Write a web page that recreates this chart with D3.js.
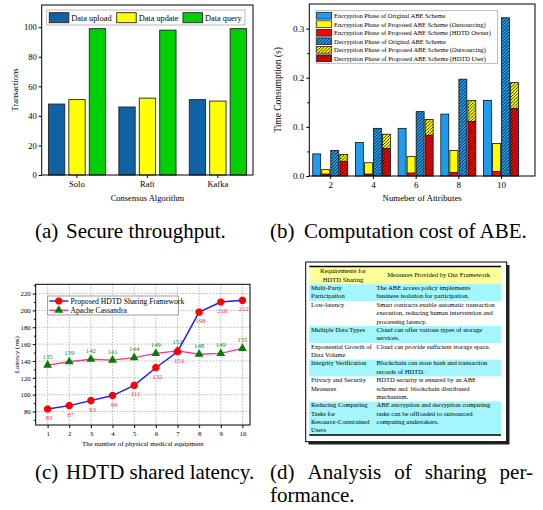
<!DOCTYPE html>
<html>
<head>
<meta charset="utf-8">
<script src="https://cdn.jsdelivr.net/npm/d3@7"></script>
<style>
body { margin: 0; background: #fff; }
text { font-family: "Liberation Serif", "Times New Roman", serif; fill: #000; }
</style>
</head>
<body>
<svg id="fig" width="543" height="510"></svg>
<script>
// (a) secure throughput
const consensus = ["Solo", "Raft", "Kafka"];
const txSeries = ["Data upload", "Data update", "Data query"];
const txUpload = [48, 46, 51];
const txUpdate = [51, 52, 50];
const txQuery = [99, 98, 99];
const txTicks = [0, 20, 40, 60, 80, 100];

// (b) computation cost of ABE
const attrCounts = [2, 4, 6, 8, 10];
const encOriginal = [0.045, 0.068, 0.097, 0.126, 0.154];
const encOwner = [0.004, 0.004, 0.006, 0.007, 0.009];
const encOutsourcing = [0.009, 0.023, 0.034, 0.045, 0.057];
const decOriginal = [0.052, 0.097, 0.131, 0.197, 0.322];
const decUser = [0.030, 0.056, 0.083, 0.111, 0.137];
const decOutsourcing = [0.014, 0.029, 0.032, 0.043, 0.053];
const abeLegend = [
    "Encryption Phase of Original ABE Scheme",
    "Encryption Phase of Proposed ABE Scheme (Outsourcing)",
    "Encryption Phase of Proposed ABE Scheme (HDTD Owner)",
    "Decryption Phase of Original ABE Scheme",
    "Decryption Phase of Proposed ABE Scheme (Outsourcing)",
    "Decryption Phase of Proposed ABE Scheme (HDTD User)"
];
const abeTicks = [0, 0.1, 0.2, 0.3];

// (c) latency
const equipment = [1, 2, 3, 4, 5, 6, 7, 8, 9, 10];
const latProposed = [83, 87, 93, 99, 111, 132, 151, 198, 210, 212];
const latCassandra = [135, 139, 142, 141, 144, 149, 152, 148, 149, 155];
const latTicks = [80, 100, 120, 140, 160, 180, 200, 220];
const latNames = ["Proposed HDTD Sharing Framework", "Apache Cassandra"];

// (d) table
const tableHead = [["Requirements for", "HDTD Sharing"], ["Measures Provided by Our Framework"]];
const requirements = [
    ["Multi-Party", "Participation"],
    ["Low-latency"],
    ["Multiple Data Types"],
    ["Exponential Growth of", "Data Volume"],
    ["Integrity Verification"],
    ["Privacy and Security", "Measures"],
    ["Reducing Computing", "Tasks for", "Resource-Constrained", "Users"]
];
const measures = [
    ["The ABE access policy implements", "business isolation for participation."],
    ["Smart contracts enable automatic transaction", "execution, reducing human intervention and", "processing latency."],
    ["Cloud can offer various types of storage", "services."],
    ["Cloud can provide sufficient storage space."],
    ["Blockchain can store hash and transaction", "records of HDTD."],
    ["HDTD security is ensured by an ABE", "scheme and  blockchain distributed", "mechanism."],
    ["ABE encryption and decryption computing", "tasks can be offloaded to outsourced", "computing undertakers."]
];

const svg = d3.select("#fig");

const defs = svg.append("defs");
const hatch = (id, color) => {
    const p = defs.append("pattern").attr("id", id)
        .attr("patternUnits", "userSpaceOnUse").attr("width", 3.2).attr("height", 3.2);
    p.append("rect").attr("width", 3.2).attr("height", 3.2).attr("fill", color);
    p.append("path").attr("d", "M-0.8,0.8 L0.8,-0.8 M0,3.2 L3.2,0 M2.4,4 L4,2.4")
        .attr("stroke", "#000").attr("stroke-width", 0.8);
};
hatch("hBlue", "#1e9cf0");
hatch("hYellow", "#ffff00");
hatch("hRed", "#ff0000");

const styleAxis = (g, fs) => {
    g.select(".domain").remove();
    g.selectAll("line").attr("stroke", "#000");
    g.selectAll("text").attr("font-size", fs);
};

// ---------------- (a) ----------------
const A = { l: 41.7, r: 253, t: 5, b: 175 };
const ay = d3.scaleLinear().domain([0, 115]).range([A.b, A.t]);
const ax = d3.scaleBand().domain(consensus).range([A.l, A.r]);
const axIn = d3.scaleBand().domain(txSeries).range([-28.5, 28.7]).paddingInner(0.2);
const txColors = ["#0f62a3", "#ffff00", "#00d000"];
const txData = [txUpload, txUpdate, txQuery];

const ga = svg.append("g");
txData.forEach((vals, s) => {
    ga.selectAll(null).data(vals).enter().append("rect")
        .attr("x", (d, i) => ax(consensus[i]) + ax.bandwidth() / 2 + axIn(txSeries[s]))
        .attr("y", d => ay(d))
        .attr("width", axIn.bandwidth())
        .attr("height", d => ay(0) - ay(d))
        .attr("fill", txColors[s])
        .attr("stroke", "#222").attr("stroke-width", 0.9);
});
ga.append("g").attr("transform", `translate(${A.l},0)`)
    .call(d3.axisLeft(ay).tickValues(txTicks).tickSize(3).tickPadding(2))
    .call(g => styleAxis(g, 8.5));
ga.append("g").attr("transform", `translate(0,${A.b})`)
    .call(d3.axisBottom(ax).tickSize(3).tickPadding(3))
    .call(g => styleAxis(g, 8.5));
ga.append("rect").attr("x", A.l).attr("y", A.t).attr("width", A.r - A.l).attr("height", A.b - A.t)
    .attr("fill", "none").attr("stroke", "#000").attr("stroke-width", 1);
ga.append("text").attr("transform", `translate(18,${(A.t + A.b) / 2}) rotate(-90)`)
    .attr("text-anchor", "middle").attr("font-size", 8.5).text("Transactions");
ga.append("text").attr("x", (A.l + A.r) / 2).attr("y", 201)
    .attr("text-anchor", "middle").attr("font-size", 8.5).text("Consensus Algorithm");

// legend (a)
ga.append("rect").attr("x", 46.7).attr("y", 10).attr("width", 198.3).attr("height", 15)
    .attr("fill", "#fff").attr("stroke", "#aaa").attr("stroke-width", 0.8);
const legAx = [49.3, 116.7, 183];
txSeries.forEach((name, s) => {
    ga.append("rect").attr("x", legAx[s]).attr("y", 12.7).attr("width", 19.5).attr("height", 10)
        .attr("fill", txColors[s]).attr("stroke", "#222").attr("stroke-width", 0.9);
    ga.append("text").attr("x", legAx[s] + 22).attr("y", 20.7).attr("font-size", 8.3).text(name);
});

// ---------------- (b) ----------------
const B = { l: 309.3, r: 535, t: 4, b: 176 };
const by = d3.scaleLinear().domain([0, 0.35]).range([B.b, B.t]);
const bx = d3.scaleLinear().domain([1.02, 11.59]).range([B.l, B.r]);
const bIn = d3.scaleBand().domain([0, 1, 2, 3]).range([-17.5, 17.5]).paddingInner(0.12);

const gb = svg.append("g");
const stacks = [
    [[encOriginal, "#1e9cf0"]],
    [[encOwner, "#ff0000"], [encOutsourcing, "#ffff00"]],
    [[decOriginal, "url(#hBlue)"]],
    [[decUser, "url(#hRed)"], [decOutsourcing, "url(#hYellow)"]]
];
stacks.forEach((segs, k) => {
    attrCounts.forEach((n, i) => {
        let base = 0;
        segs.forEach(([vals, fill]) => {
            const v = vals[i];
            gb.append("rect")
                .attr("x", bx(n) + bIn(k))
                .attr("y", by(base + v))
                .attr("width", bIn.bandwidth())
                .attr("height", by(base) - by(base + v))
                .attr("fill", fill)
                .attr("stroke", "#111").attr("stroke-width", 0.8);
            base += v;
        });
    });
});
gb.append("g").attr("transform", `translate(${B.l},0)`)
    .call(d3.axisLeft(by).tickValues(abeTicks).tickFormat(d3.format(".1f")).tickSize(3).tickPadding(2))
    .call(g => styleAxis(g, 9));
gb.append("g").attr("transform", `translate(${B.l},0)`)
    .call(d3.axisLeft(by).tickValues([0.05, 0.15, 0.25]).tickFormat("").tickSize(2))
    .call(g => styleAxis(g, 9));
gb.append("g").attr("transform", `translate(0,${B.b})`)
    .call(d3.axisBottom(bx).tickValues(attrCounts).tickSize(3).tickPadding(3))
    .call(g => styleAxis(g, 9));
gb.append("rect").attr("x", B.l).attr("y", B.t).attr("width", B.r - B.l).attr("height", B.b - B.t)
    .attr("fill", "none").attr("stroke", "#000").attr("stroke-width", 1);
gb.append("text").attr("transform", `translate(281,${(B.t + B.b) / 2}) rotate(-90)`)
    .attr("text-anchor", "middle").attr("font-size", 9.5).text("Time Consumption (s)");
gb.append("text").attr("x", (B.l + B.r) / 2).attr("y", 201)
    .attr("text-anchor", "middle").attr("font-size", 8.8).text("Numeber of Attributes");

// legend (b)
gb.append("rect").attr("x", 316).attr("y", 10.7).attr("width", 181.7).attr("height", 52.6)
    .attr("fill", "#fff").attr("stroke", "#aaa").attr("stroke-width", 0.8);
const abeLegFill = ["#1e9cf0", "#ffff00", "#ff0000", "url(#hBlue)", "url(#hYellow)", "url(#hRed)"];
abeLegend.forEach((name, i) => {
    const cy = 15.7 + i * 8.52;
    gb.append("rect").attr("x", 316.7).attr("y", cy - 3.4).attr("width", 15).attr("height", 6.8)
        .attr("fill", abeLegFill[i]).attr("stroke", "#111").attr("stroke-width", 0.7);
    gb.append("text").attr("x", 334).attr("y", cy + 2.3).attr("font-size", 6.45).text(name);
});

// ---------------- (c) ----------------
const C = { l: 35.7, r: 250, t: 284.3, b: 425 };
const cy = d3.scaleLinear().domain([64, 231]).range([C.b, C.t]);
const cx = d3.scaleLinear().domain([0.45, 10.35]).range([C.l, C.r]);
const gc = svg.append("g");

gc.append("g").selectAll("line").data(latTicks).enter().append("line")
    .attr("x1", C.l).attr("x2", C.r).attr("y1", d => cy(d)).attr("y2", d => cy(d))
    .attr("stroke", "#999").attr("stroke-width", 0.7).attr("stroke-dasharray", "1.5,1.5");
gc.append("g").selectAll("line").data(equipment).enter().append("line")
    .attr("y1", C.t).attr("y2", C.b).attr("x1", d => cx(d)).attr("x2", d => cx(d))
    .attr("stroke", "#999").attr("stroke-width", 0.7).attr("stroke-dasharray", "1.5,1.5");

gc.append("g").attr("transform", `translate(${C.l},0)`)
    .call(d3.axisLeft(cy).tickValues(latTicks).tickSize(3).tickPadding(2))
    .call(g => styleAxis(g, 6.8));
gc.append("g").attr("transform", `translate(${C.l},0)`)
    .call(d3.axisLeft(cy).tickValues(d3.range(70, 231, 20)).tickFormat("").tickSize(1.8))
    .call(g => styleAxis(g, 6.8));
gc.append("g").attr("transform", `translate(0,${C.b})`)
    .call(d3.axisBottom(cx).tickValues(equipment).tickSize(3).tickPadding(3))
    .call(g => styleAxis(g, 6.8));
gc.append("rect").attr("x", C.l).attr("y", C.t).attr("width", C.r - C.l).attr("height", C.b - C.t)
    .attr("fill", "none").attr("stroke", "#000").attr("stroke-width", 1);
gc.append("text").attr("transform", `translate(19,${(C.t + C.b) / 2}) rotate(-90)`)
    .attr("text-anchor", "middle").attr("font-size", 7).text("Latency (ms)");
gc.append("text").attr("x", (C.l + C.r) / 2).attr("y", 446)
    .attr("text-anchor", "middle").attr("font-size", 7).text("The number of physical medical equipment");

const octagon = r => d3.line()(d3.range(8).map(i => [
    r * Math.cos((i + 0.5) * Math.PI / 4), r * Math.sin((i + 0.5) * Math.PI / 4)])) + "Z";
const tri = d3.symbol(d3.symbolTriangle, 34)();

const lineC = d3.line().x((d, i) => cx(equipment[i])).y(d => cy(d));
gc.append("path").attr("d", lineC(latCassandra)).attr("fill", "none")
    .attr("stroke", "#ff3399").attr("stroke-width", 1.4);
gc.append("path").attr("d", lineC(latProposed)).attr("fill", "none")
    .attr("stroke", "#1a1aff").attr("stroke-width", 1.4);
gc.selectAll(".tri").data(latCassandra).enter().append("path")
    .attr("transform", (d, i) => `translate(${cx(equipment[i])},${cy(d)})`)
    .attr("d", tri).attr("fill", "#008000");
gc.selectAll(".oct").data(latProposed).enter().append("path")
    .attr("transform", (d, i) => `translate(${cx(equipment[i])},${cy(d)})`)
    .attr("d", octagon(3.9)).attr("fill", "#ff0000");
gc.selectAll(".lp").data(latProposed).enter().append("text")
    .attr("x", (d, i) => cx(equipment[i]) + 1.5).attr("y", d => cy(d) + 11)
    .attr("text-anchor", "middle").attr("font-size", 6.8).style("fill", "#ff3333").text(d => d);
gc.selectAll(".lc").data(latCassandra).enter().append("text")
    .attr("x", (d, i) => cx(equipment[i])).attr("y", d => cy(d) - 6.5)
    .attr("text-anchor", "middle").attr("font-size", 6.8).style("fill", "#1a8c1a").text(d => d);

// legend (c)
gc.append("rect").attr("x", 47.7).attr("y", 296).attr("width", 130.6).attr("height", 19)
    .attr("fill", "#fff").attr("stroke", "#888").attr("stroke-width", 0.8);
[["#1a1aff", octagon(3.9), "#ff0000"], ["#ff3399", tri, "#008000"]].forEach(([lc, sym, mc], i) => {
    const yy = 301 + i * 9.3;
    gc.append("line").attr("x1", 49.3).attr("x2", 68.3).attr("y1", yy).attr("y2", yy)
        .attr("stroke", lc).attr("stroke-width", 1.4);
    gc.append("path").attr("transform", `translate(58.8,${yy})`).attr("d", sym).attr("fill", mc);
    gc.append("text").attr("x", 70.5).attr("y", yy + 2.6).attr("font-size", 7.6).text(latNames[i]);
});

// ---------------- (d) ----------------
const T = { l: 309.3, r: 501, top: 266.5, headH: 17.7, lineH: 8.38, col2: 376.5 };
const gd = svg.append("g");
gd.append("rect").attr("x", 308.5).attr("y", 265).attr("width", 201).attr("height", 179.5).attr("fill", "#222");
gd.append("rect").attr("x", 305.7).attr("y", 262).attr("width", 201).attr("height", 179.7)
    .attr("fill", "#fff").attr("stroke", "#000").attr("stroke-width", 1);
gd.append("rect").attr("x", T.l).attr("y", T.top).attr("width", T.r - T.l).attr("height", T.headH).attr("fill", "#ffff99");
const fsT = 6.6;
tableHead[0].forEach((s, j) => gd.append("text").attr("x", 343).attr("y", T.top + 6.3 + j * 8.8)
    .attr("text-anchor", "middle").attr("font-size", fsT).text(s));
gd.append("text").attr("x", 438.7).attr("y", T.top + 10.8).attr("text-anchor", "middle")
    .attr("font-size", fsT).text(tableHead[1][0]);
let rowTop = T.top + T.headH;
requirements.forEach((req, r) => {
    const n = Math.max(req.length, measures[r].length);
    if (r % 2 === 0) {
        gd.append("rect").attr("x", T.l).attr("y", rowTop).attr("width", T.r - T.l)
            .attr("height", n * T.lineH).attr("fill", "#a2f6fc");
    }
    req.forEach((s, j) => gd.append("text").attr("x", 311).attr("y", rowTop + 5.8 + j * T.lineH)
        .attr("font-size", fsT).text(s));
    measures[r].forEach((s, j) => gd.append("text").attr("x", T.col2).attr("y", rowTop + 5.8 + j * T.lineH)
        .attr("font-size", fsT).attr("xml:space", "preserve").text(s));
    rowTop += n * T.lineH;
});
gd.append("line").attr("x1", T.l).attr("x2", T.r).attr("y1", T.top).attr("y2", T.top)
    .attr("stroke", "#000").attr("stroke-width", 1.6);
gd.append("line").attr("x1", T.l).attr("x2", T.r).attr("y1", rowTop).attr("y2", rowTop)
    .attr("stroke", "#000").attr("stroke-width", 1.6);

// ---------------- captions ----------------
const capFs = 21;
const cap = (x, y, tag, s, gap) => {
    svg.append("text").attr("x", x).attr("y", y).attr("font-size", capFs).text(tag);
    svg.append("text").attr("x", x + 31 + gap).attr("y", y).attr("font-size", capFs).text(s);
};
cap(35, 238, "(a)", "Secure throughput.", 0);
cap(270, 238, "(b)", "Computation cost of ABE.", 3);
cap(35, 478.5, "(c)", "HDTD shared latency.", 0);

// justified first line of caption (d)
const dWords = ["(d)", "Analysis", "of", "sharing", "per-"];
const wEls = dWords.map(w => svg.append("text").attr("y", 478.5).attr("font-size", capFs).text(w));
const wLens = wEls.map(el => el.node().getComputedTextLength());
const gapD = (533 - 270 - d3.sum(wLens)) / (dWords.length - 1);
let xw = 270;
wEls.forEach((el, i) => { el.attr("x", xw); xw += wLens[i] + gapD; });
svg.append("text").attr("x", 270).attr("y", 502).attr("font-size", capFs).text("formance.");
</script>
</body>
</html>
